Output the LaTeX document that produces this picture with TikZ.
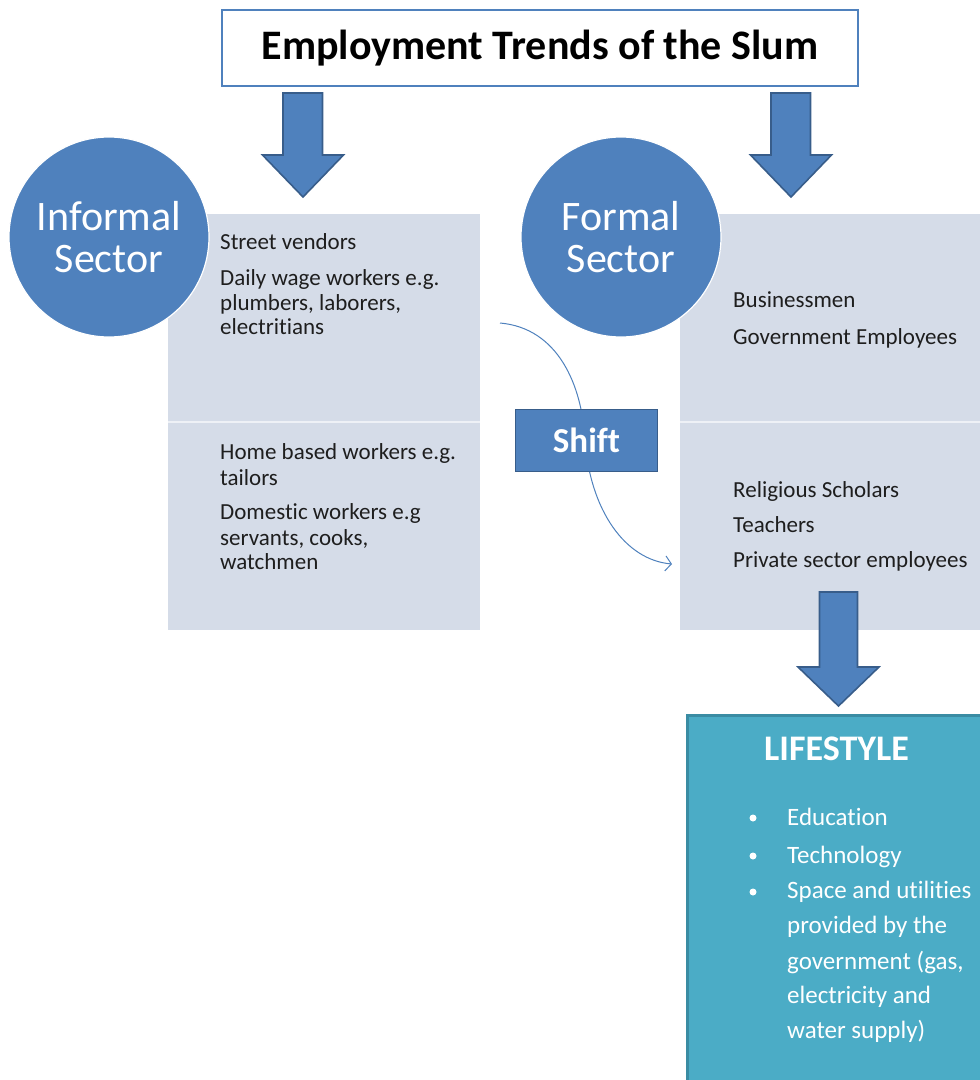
\documentclass[tikz,border=0pt]{standalone}
\usepackage{fontspec}
\setmainfont[Ligatures=NoCommon]{Carlito}
\usetikzlibrary{arrows.meta}
\definecolor{mainblue}{HTML}{4F81BD}
\definecolor{edgeblue}{HTML}{385D8A}
\definecolor{panelgray}{HTML}{D5DCE8}
\definecolor{teal}{HTML}{4BACC6}
\definecolor{tealedge}{HTML}{3A8CA3}
\definecolor{inktext}{HTML}{1E1E1E}
\tikzset{
  panel/.style={fill=panelgray, draw=none, anchor=north west, inner sep=0pt},
  sector/.style={circle, fill=mainblue, draw=white, line width=1.2pt,
    minimum size=200pt, inner sep=0pt, text=white, align=center,
    font=\fontsize{42}{46}\selectfont},
  item/.style={anchor=base west, inner sep=0pt, text=inktext,
    font=\fontsize{23}{26}\selectfont},
  lsitem/.style={anchor=base west, inner sep=0pt, text=white,
    font=\fontsize{25}{30}\selectfont},
  bulletdot/.style={circle, fill=white, inner sep=0pt, minimum size=7pt},
  blockarrow/.style={fill=mainblue, draw=edgeblue, line width=1.6pt, line join=miter},
  flow/.style={draw=mainblue, line width=1pt, -{Straight Barb[length=6pt,width=15pt]}},
}
\begin{document}
\begin{tikzpicture}[x=1pt,y=-1pt]
\useasboundingbox (0,0) rectangle (980,1080);
\clip (0,0) rectangle (980,1080);

% grey panels listing the occupations
\node[panel, minimum width=312pt, minimum height=208pt] (infTop) at (168,214) {};
\node[panel, minimum width=312pt, minimum height=208pt] (infBot) at (168,422) {};
\node[panel, minimum width=320pt, minimum height=208pt] (forTop) at (680,214) {};
\node[panel, minimum width=320pt, minimum height=208pt] (forBot) at (680,422) {};
\draw[white!60!panelgray, line width=1.5pt] (infBot.north west) -- (infBot.north east);
\draw[white!60!panelgray, line width=1.5pt] (forBot.north west) -- (forBot.north east);

% informal sector entries
\node[item] (i1) at (220,249) {Street vendors};
\node[item] (i2) at (220,285) {Daily wage workers e.g.};
\node[item] (i3) at (220,310) {plumbers, laborers,};
\node[item] (i4) at (220,334) {electritians};
\node[item] (i5) at (220,459) {Home based workers e.g.};
\node[item] (i6) at (220,485) {tailors};
\node[item] (i7) at (220,519) {Domestic workers e.g};
\node[item] (i8) at (220,545) {servants, cooks,};
\node[item] (i9) at (220,569) {watchmen};

% formal sector entries
\node[item] (f1) at (733,307) {Businessmen};
\node[item] (f2) at (733,344) {Government Employees};
\node[item] (f3) at (733,497) {Religious Scholars};
\node[item] (f4) at (733,532) {Teachers};
\node[item] (f5) at (733,567) {Private sector employees};

% shift from informal to formal work
\coordinate (shiftStart) at (500,323);
\coordinate (shiftEnd) at (672,564);
\draw[flow] (shiftStart) .. controls (558,328) and (582,385) .. (585,440)
  .. controls (590,510) and (625,560) .. (shiftEnd);
\node[fill=mainblue, draw=edgeblue, line width=1.8pt, minimum width=142pt,
  minimum height=62pt, inner sep=0pt, text=white,
  font=\bfseries\fontsize{35}{38}\selectfont] (shift) at (586.5,440.5) {Shift};

% block arrows
\draw[blockarrow] (283,93) -- (322.5,93) -- (322.5,155) -- (343.5,155) -- (303,197)
  -- (262.5,155) -- (283,155) -- cycle;
\draw[blockarrow] (771,93) -- (810.5,93) -- (810.5,155) -- (831.5,155) -- (791,197)
  -- (750.5,155) -- (771,155) -- cycle;
\draw[blockarrow] (819.5,592) -- (857.5,592) -- (857.5,667) -- (879,667) -- (838.5,706)
  -- (798,667) -- (819.5,667) -- cycle;

% sector circles
\node[sector] (informal) at (109,237) {Informal\\[-4pt]Sector};
\node[sector] (formal) at (621,237) {Formal\\[-4pt]Sector};

% title
\node[draw=mainblue, fill=white, line width=2.5pt, minimum width=636pt,
  minimum height=76pt, inner sep=0pt, text=black,
  font=\bfseries\fontsize{42}{46}\selectfont] (title) at (540,48) {Employment Trends of the Slum};

% lifestyle box
\node[fill=teal, draw=tealedge, line width=3pt, anchor=north west,
  minimum width=340pt, minimum height=400pt, inner sep=0pt] (life) at (686,714) {};
\node[anchor=base, inner sep=0pt, text=white,
  font=\bfseries\fontsize{36}{40}\selectfont] (lifeHead) at (836.5,760) {LIFESTYLE};
\node[bulletdot] (b1) at (753,818) {};
\node[bulletdot] (b2) at (753,856) {};
\node[bulletdot] (b3) at (753,892) {};
\node[lsitem] (l1) at (787,825) {Education};
\node[lsitem] (l2) at (787,863) {Technology};
\node[lsitem] (l3) at (787,898) {Space and utilities};
\node[lsitem] (l4) at (787,933) {provided by the};
\node[lsitem] (l5) at (787,969) {government (gas,};
\node[lsitem] (l6) at (787,1003) {electricity and};
\node[lsitem] (l7) at (787,1038) {water supply)};
\end{tikzpicture}
\end{document}
